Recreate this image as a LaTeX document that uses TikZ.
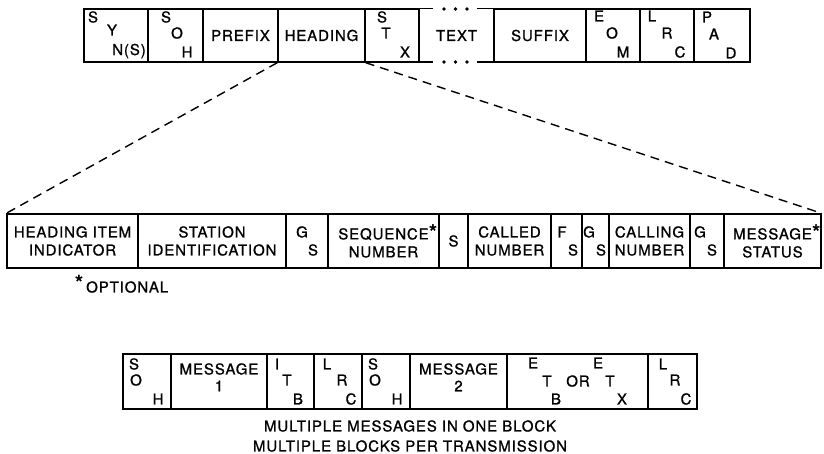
\documentclass[tikz,border=0pt]{standalone}
\usepackage{fontspec}
\setmainfont[LetterSpace=6,FakeBold=1]{TeX Gyre Heros}
\newcommand{\astk}{{\fontsize{22}{22}\selectfont *}}
\begin{document}
\begin{tikzpicture}[x=1pt,y=-1pt,
  box/.style={draw, line width=1.4pt, inner sep=0pt, align=center},
  lbl/.style={inner sep=0pt, anchor=center},
  dashline/.style={line width=1.4pt, dash pattern=on 9pt off 6pt},
  every node/.style={font=\fontsize{15}{18}\selectfont}]
\useasboundingbox[fill=white] (0,0) rectangle (824,454);
% ---------- top row ----------
\def\ty{35.5}\def\th{53}
\node[box, minimum width=64, minimum height=\th] (syn) at (116,\ty) {};
\node[box, minimum width=55, minimum height=\th] (soh) at (175.5,\ty) {};
\node[box, minimum width=75, minimum height=\th] (prefix) at (240.5,\ty) {PREFIX};
\node[box, minimum width=87, minimum height=\th] (heading) at (321.5,\ty) {HEADING};
\node[box, minimum width=54, minimum height=\th] (stx) at (392,\ty) {};
\node[inner sep=0pt, minimum width=75, minimum height=\th] (txt) at (456.5,\ty) {TEXT};
\node[box, minimum width=92, minimum height=\th] (suffix) at (540,\ty) {SUFFIX};
\node[box, minimum width=54, minimum height=\th] (eom) at (613,\ty) {};
\node[box, minimum width=54, minimum height=\th] (lrc) at (667,\ty) {};
\node[box, minimum width=56, minimum height=\th] (pad) at (722,\ty) {};
\draw[line width=1.4pt] (txt.north west) -- ++(14,0) (txt.north east) -- ++(-17,0);
\draw[line width=1.4pt] (txt.south west) -- ++(14,0) (txt.south east) -- ++(-17,0);
\foreach \dx in {444,455.5,467} {\fill (\dx,9) circle (1.8); \fill (\dx,62) circle (1.8);}
% stacked letters top
\node[lbl] at (93,17) {S}; \node[lbl] at (112,30) {Y}; \node[lbl] at (129,51) {N(S)};
\node[lbl] at (166,17) {S}; \node[lbl] at (177,33) {O}; \node[lbl] at (187,52) {H};
\node[lbl] at (382,17) {S}; \node[lbl] at (386,33) {T}; \node[lbl] at (405,52) {X};
\node[lbl] at (599,16) {E}; \node[lbl] at (612,33) {O}; \node[lbl] at (623,52) {M};
\node[lbl] at (652,16) {L}; \node[lbl] at (667,33) {R}; \node[lbl] at (680,52) {C};
\node[lbl] at (707,17) {P}; \node[lbl] at (714,34) {A}; \node[lbl] at (731,53) {D};
% ---------- middle row ----------
\def\my{241}\def\mh{54}
\node[box, minimum width=131, minimum height=\mh] (hii) at (72.5,\my) {HEADING ITEM\\INDICATOR};
\node[box, minimum width=148, minimum height=\mh] (sid) at (212,\my) {STATION\\IDENTIFICATION};
\node[box, minimum width=42, minimum height=\mh] (gsa) at (307,\my) {};
\node[box, minimum width=111, minimum height=\mh] (seq) at (383.5,\my) {SEQUENCE\rlap{\raisebox{-1pt}{\astk}}\\NUMBER};
\node[box, minimum width=29, minimum height=\mh] (sa) at (453.5,\my) {S};
\node[box, minimum width=83, minimum height=\mh] (called) at (509.5,\my) {CALLED\\NUMBER};
\node[box, minimum width=31, minimum height=\mh] (fs) at (566.5,\my) {};
\node[box, minimum width=27, minimum height=\mh] (gsb) at (595.5,\my) {};
\node[box, minimum width=81, minimum height=\mh] (calling) at (649.5,\my) {CALLING\\NUMBER};
\node[box, minimum width=34, minimum height=\mh] (gsc) at (707,\my) {};
\node[box, minimum width=97, minimum height=\mh] (mst) at (772.5,\my) {MESSAGE\rlap{\raisebox{-1pt}{\astk}}\\STATUS};
\node[lbl] at (302,232) {G}; \node[lbl] at (313,250) {S};
\node[lbl] at (562,232) {F}; \node[lbl] at (573,250) {S};
\node[lbl] at (589,232) {G}; \node[lbl] at (601,250) {S};
\node[lbl] at (700,232) {G}; \node[lbl] at (712,250) {S};
\node[lbl] at (79,283) {\astk};
\node[lbl, anchor=west] at (86,287) {OPTIONAL};
% dashed expansion lines
\draw[dashline] (heading.south west) -- (hii.north west);
\draw[dashline] (heading.south east) -- (mst.north east);
% ---------- bottom row ----------
\def\by{381.5}\def\bh{55}
\node[box, minimum width=48, minimum height=\bh] (bsoha) at (147,\by) {};
\node[box, minimum width=96, minimum height=\bh] (msga) at (219,\by) {};
\node[box, minimum width=47, minimum height=\bh] (itb) at (290.5,\by) {};
\node[box, minimum width=48, minimum height=\bh] (blrca) at (338,\by) {};
\node[box, minimum width=48, minimum height=\bh] (bsohb) at (386,\by) {};
\node[box, minimum width=97, minimum height=\bh] (msgb) at (458.5,\by) {};
\node[box, minimum width=141, minimum height=\bh] (etx) at (577.5,\by) {};
\node[box, minimum width=49, minimum height=\bh] (blrcb) at (672.5,\by) {};
\node[lbl] at (219,369) {MESSAGE}; \node[lbl] at (219,386) {1};
\node[lbl] at (458.5,369) {MESSAGE}; \node[lbl] at (458.5,386) {2};
\node[lbl] at (134,364) {S}; \node[lbl] at (136,380) {O}; \node[lbl] at (158,399) {H};
\node[lbl] at (277,364) {I}; \node[lbl] at (287,380) {T}; \node[lbl] at (298,399) {B};
\node[lbl] at (327,364) {L}; \node[lbl] at (342,380) {R}; \node[lbl] at (351,399) {C};
\node[lbl] at (373,364) {S}; \node[lbl] at (375,380) {O}; \node[lbl] at (397,399) {H};
\node[lbl] at (533,363) {E}; \node[lbl] at (547,381) {T}; \node[lbl] at (556,399) {B};
\node[lbl] at (578,381) {OR};
\node[lbl] at (598,363) {E}; \node[lbl] at (610,381) {T}; \node[lbl] at (622,399) {X};
\node[lbl] at (663,364) {L}; \node[lbl] at (675,380) {R}; \node[lbl] at (686,399) {C};
\node[lbl] at (410,426) {MULTIPLE MESSAGES IN ONE BLOCK};
\node[lbl] at (410,446) {MULTIPLE BLOCKS PER TRANSMISSION};
\end{tikzpicture}
\end{document}
